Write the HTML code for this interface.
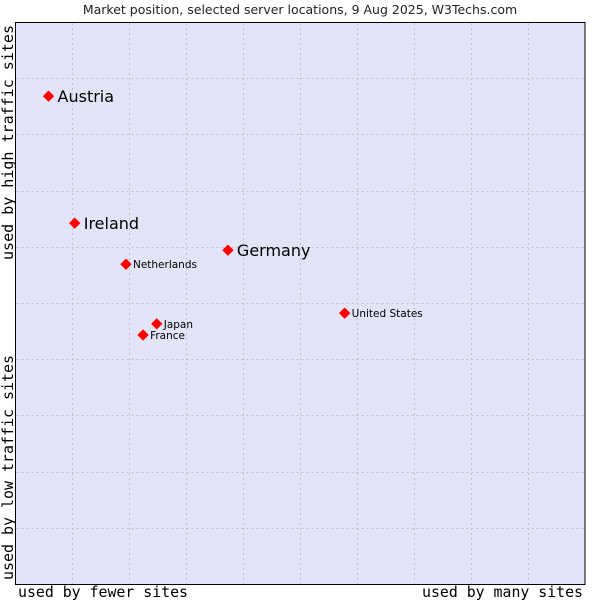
<!DOCTYPE html>
<html><head><meta charset="utf-8"><style>
html,body{margin:0;padding:0;background:#fff;width:600px;height:600px;overflow:hidden}
</style></head><body>
<svg width="600" height="600" xmlns="http://www.w3.org/2000/svg">
<text x="300" y="14" text-anchor="middle" font-family="DejaVu Sans, sans-serif" font-size="12.5" fill="#222">Market position, selected server locations, 9 Aug 2025, W3Techs.com</text>
<rect x="15.5" y="22.5" width="569.5" height="562" fill="#e3e4f8" stroke="#000" stroke-width="1"/>
<g id="grid"></g>
<g id="pts"></g>
<text x="13" y="580" transform="rotate(-90 13 580)" font-family="DejaVu Sans Mono, monospace" font-size="15" fill="#000" textLength="225" lengthAdjust="spacingAndGlyphs">used by low traffic sites</text>
<text x="13" y="260" transform="rotate(-90 13 260)" font-family="DejaVu Sans Mono, monospace" font-size="15" fill="#000" textLength="235" lengthAdjust="spacingAndGlyphs">used by high traffic sites</text>
<text x="18" y="597" font-family="DejaVu Sans Mono, monospace" font-size="15" fill="#000" textLength="170" lengthAdjust="spacingAndGlyphs">used by fewer sites</text>
<text x="422" y="597" font-family="DejaVu Sans Mono, monospace" font-size="15" fill="#000" textLength="161" lengthAdjust="spacingAndGlyphs">used by many sites</text>
</svg>
<script>
const names=["Austria","Ireland","Germany","Netherlands","United States","Japan","France"];
const xVals=[0.58,1.04,3.73,1.94,5.78,2.48,2.24];
const yVals=[8.68,6.42,5.94,5.69,4.82,4.63,4.43];
const bigLabel=[true,true,true,false,false,false,false];
const NS="http://www.w3.org/2000/svg";
const X0=15.5,X1=585,Y0=584,Y1=22;
const sx=v=>X0+(X1-X0)*v/10, sy=v=>Y0-(Y0-Y1)*v/10;
const grid=document.getElementById('grid');
for(let i=1;i<10;i++){
 const v=document.createElementNS(NS,'line');
 v.setAttribute('x1',Math.round(sx(i))+0.5);v.setAttribute('x2',Math.round(sx(i))+0.5);
 v.setAttribute('y1',Y1+1);v.setAttribute('y2',Y0);
 v.setAttribute('stroke','#c0c0c8');v.setAttribute('stroke-dasharray','2,3');
 
 
 grid.appendChild(v);
 const h=document.createElementNS(NS,'line');
 h.setAttribute('y1',Math.round(sy(i))+0.5);h.setAttribute('y2',Math.round(sy(i))+0.5);
 h.setAttribute('x1',X0+1);h.setAttribute('x2',X1);
 h.setAttribute('stroke','#c0c0c8');h.setAttribute('stroke-dasharray','2,3');
 
 
 grid.appendChild(h);
}
const pts=document.getElementById('pts');
names.forEach((n,i)=>{
 const x=sx(xVals[i]),y=sy(yVals[i]);
 const d=document.createElementNS(NS,'polygon');
 d.setAttribute('points',`${x},${y-5} ${x+5},${y} ${x},${y+5} ${x-5},${y}`);
 d.setAttribute('fill','#f00');
 d.setAttribute('stroke','#f00');
 d.setAttribute('stroke-linejoin','round');
 
 
 pts.appendChild(d);
 const t=document.createElementNS(NS,'text');
 t.setAttribute('x',x+(bigLabel[i]?9:7));
 t.setAttribute('y',y+(bigLabel[i]?6:4));
 t.setAttribute('font-family','DejaVu Sans, sans-serif');
 t.setAttribute('font-size',bigLabel[i]?'16':'10.5');
 t.setAttribute('fill','#000');
 t.textContent=n;
 
 
 pts.appendChild(t);
});
</script>
</body></html>
